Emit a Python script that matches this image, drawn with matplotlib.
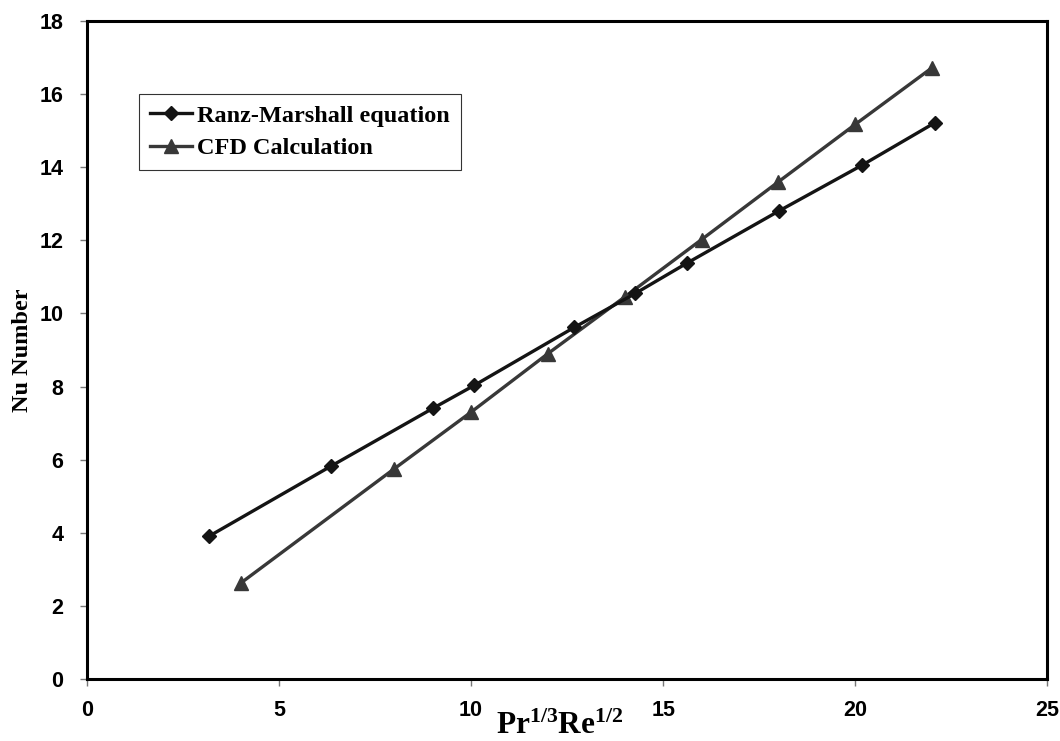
import matplotlib.pyplot as plt

plt.rcParams['font.family'] = 'Liberation Sans'
plt.rcParams['font.weight'] = 'bold'
plt.rcParams['xtick.labelsize'] = 15.5
plt.rcParams['ytick.labelsize'] = 15.5
plt.rcParams['mathtext.fontset'] = 'custom'
plt.rcParams['mathtext.bf'] = 'Liberation Serif:bold'
plt.rcParams['mathtext.rm'] = 'Liberation Serif:bold'

# Ranz-Marshall correlation
rm_x = [3.17, 6.35, 9.0, 10.08, 12.69, 14.28, 15.61, 18.01, 20.17, 22.08]
rm_nu = [3.9, 5.82, 7.4, 8.03, 9.62, 10.55, 11.37, 12.8, 14.05, 15.22]

# CFD results
cfd_x = [4, 8, 10, 12, 14, 16, 18, 20, 22]
cfd_nu = [2.62, 5.75, 7.3, 8.9, 10.45, 12.02, 13.6, 15.17, 16.72]

fig = plt.figure(figsize=(10.6, 7.41), dpi=100)
ax = fig.add_axes([0.082, 0.0837, 0.906, 0.888])

ax.plot(rm_x, rm_nu, color='#141414', lw=2.4, marker='D', ms=7.5,
        label='Ranz-Marshall equation', zorder=3)
ax.plot(cfd_x, cfd_nu, color='#383838', lw=2.4, marker='^', ms=10,
        label='CFD Calculation', zorder=2)

ax.set_xlim(0, 25)
ax.set_ylim(0, 18)
ax.set_xticks(range(0, 26, 5))
ax.set_yticks(range(0, 19, 2))
for s in ax.spines.values():
    s.set_linewidth(2.2)
    s.set_color('black')
ax.tick_params(direction='out', length=5, width=1, color='#777777')
ax.tick_params(axis='x', pad=10)
ax.tick_params(axis='y', pad=12)

ax.set_xlabel(r'$\mathbf{Pr^{1/3}Re^{1/2}}$', fontsize=22.5)
ax.xaxis.set_label_coords(0.492, -0.071)
ax.xaxis.label.set_va('center')
ax.set_ylabel('Nu Number', family='Liberation Serif', fontweight='bold', fontsize=17.5)
ax.yaxis.set_label_coords(-0.067, 0.5)
ax.yaxis.label.set_va('center')

leg = ax.legend(loc='upper left', bbox_to_anchor=(0.054, 0.889),
                prop={'family': 'Liberation Serif', 'weight': 'bold', 'size': 17.5},
                frameon=True, fancybox=False, edgecolor='black',
                handlelength=1.75, handletextpad=0.2, borderpad=0.45,
                labelspacing=0.42, borderaxespad=0)
leg.get_frame().set_linewidth(0.8)

fig.savefig('out.png', dpi=100)
